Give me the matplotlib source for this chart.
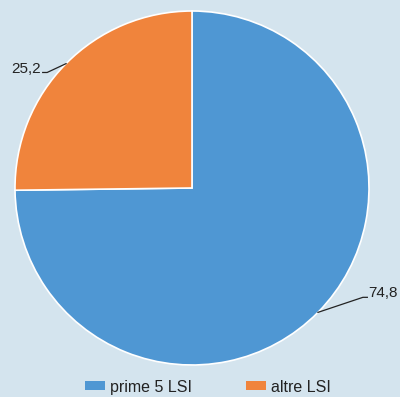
import numpy as np
import matplotlib
matplotlib.use("Agg")
import matplotlib.pyplot as plt
from matplotlib.patches import Patch

categories = ["prime 5 LSI", "altre LSI"]
values = [74.8, 25.2]
value_labels = ["74,8", "25,2"]
colors = ["#4f97d3", "#f0843c"]
bg = "#d4e4ee"

plt.rcParams['font.family'] = ['Liberation Sans', 'DejaVu Sans']

fig = plt.figure(figsize=(4.0, 3.97), dpi=100, facecolor=bg)
ax = fig.add_axes([0.0375, 0.0806, 0.885, 354/397])
ax.set_facecolor(bg)
wedges, _ = ax.pie(values, colors=colors, startangle=90, counterclock=False,
                   wedgeprops=dict(edgecolor="white", linewidth=1.2))
ax.set_xlim(-1, 1)
ax.set_ylim(-1, 1)
ax.set_aspect('equal')
ax.axis('off')

# leader-line elbow offsets (axes units) per label
elbows = [(0.254, 0.085), (-0.107, -0.05)]
for w, lab, (dx, dy) in zip(wedges, value_labels, elbows):
    mid = np.deg2rad((w.theta1 + w.theta2) / 2)
    x0, y0 = np.cos(mid), np.sin(mid)
    s = np.sign(x0)
    ex, ey = x0 + dx, y0 + dy
    hx = ex + s * 0.025
    ax.plot([x0, ex, hx], [y0, ey, ey], color="#222222", lw=0.9, clip_on=False)
    ax.text(hx + s * 0.008, ey + 0.022, lab, ha='left' if s > 0 else 'right',
            va='center', fontsize=11, color="#222222")

handles = [Patch(facecolor=c, edgecolor='none') for c in colors]
fig.legend(handles, categories, loc='center', bbox_to_anchor=(0.52, 0.025),
           ncol=2, frameon=False, fontsize=11.5, handlelength=1.25, handleheight=0.5,
           handletextpad=0.3, columnspacing=3.4, labelcolor="#222222")

fig.savefig("out.png", dpi=100, facecolor=bg)
